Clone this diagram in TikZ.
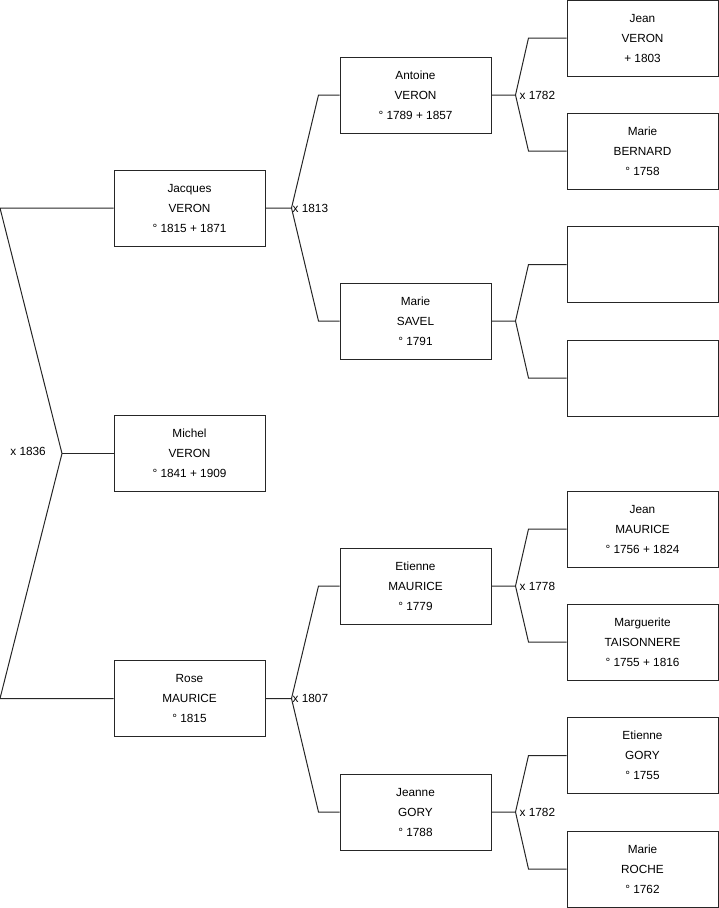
\documentclass[tikz,border=0pt]{standalone}
\usepackage{fontspec}
\setmainfont{Liberation Sans}
\usepackage{tikz}
\usetikzlibrary{positioning,calc}
\tikzset{
  person/.style ={draw=black!85, line width=1pt, fill=white, align=center,
                  minimum width=151, minimum height=76, inner sep=0pt,
                  font=\fontsize{11.8}{20}\selectfont},
  link/.style   ={draw=black!85, line width=1pt},
  union/.style  ={font=\fontsize{11.8}{14}\selectfont, inner sep=1pt},
}

\begin{document}
\begin{tikzpicture}[x=1pt, y=-1pt]
\useasboundingbox (0,0) rectangle (719,908);
\coordinate (edge) at (0,0);

% generation 1 and 2
\node[person] (michel)  at (189.5,453.5) {Michel\\VERON\\° 1841 + 1909};
\node[person] (jacques) at (189.5,208) {Jacques\\VERON\\° 1815 + 1871};
\node[person] (rose)    at (189.5,698.5) {Rose\\MAURICE\\° 1815};

% generation 3
\node[person] (antoine) at (415.5,95) {Antoine\\VERON\\° 1789 + 1857};
\node[person] (savel)   at (415.5,321) {Marie\\SAVEL\\° 1791};
\node[person] (etienne) at (415.5,586) {Etienne\\MAURICE\\° 1779};
\node[person] (jeanne)  at (415.5,812) {Jeanne\\GORY\\° 1788};

% generation 4
\node[person] (jeanv)  at (642.5,38) {Jean\\VERON\\ + 1803};
\node[person] (bernard) at (642.5,151) {Marie\\BERNARD\\° 1758};
\node[person] (blanka) at (642.5,264.5) {};
\node[person] (blankb) at (642.5,378) {};
\node[person] (jeanm)  at (642.5,529) {Jean\\MAURICE\\° 1756 + 1824};
\node[person] (margot) at (642.5,642) {Marguerite\\TAISONNERE\\° 1755 + 1816};
\node[person] (gory)   at (642.5,755.5) {Etienne\\GORY\\° 1755};
\node[person] (roche)  at (642.5,869) {Marie\\ROCHE\\° 1762};

% couple of michel
\coordinate (k0) at (62,453.5);
\draw[link] (jacques.west) -- (jacques.west -| edge) -- (k0) -- (rose.west -| edge) -- (rose.west);
\draw[link] (k0) -- (michel.west);
\node[union, anchor=east] (u0) at (47,451) {x 1836};

% couples of generation 2
\coordinate (k1) at ([xshift=26]jacques.east);
\draw[link] (jacques.east) -- (k1) -- ([xshift=-21]antoine.west) -- (antoine.west);
\draw[link] (k1) -- ([xshift=-21]savel.west) -- (savel.west);
\node[union, anchor=west] (u1) at (k1) {x 1813};

\coordinate (k2) at ([xshift=26]rose.east);
\draw[link] (rose.east) -- (k2) -- ([xshift=-21]etienne.west) -- (etienne.west);
\draw[link] (k2) -- ([xshift=-21]jeanne.west) -- (jeanne.west);
\node[union, anchor=west] (u2) at (k2) {x 1807};

% couples of generation 3
\coordinate (k3) at ([xshift=24]antoine.east);
\draw[link] (antoine.east) -- (k3) -- ([xshift=-38]jeanv.west) -- (jeanv.west);
\draw[link] (k3) -- ([xshift=-38]bernard.west) -- (bernard.west);
\node[union, anchor=west] (u3) at ([xshift=3]k3) {x 1782};

\coordinate (k4) at ([xshift=24]savel.east);
\draw[link] (savel.east) -- (k4) -- ([xshift=-38]blanka.west) -- (blanka.west);
\draw[link] (k4) -- ([xshift=-38]blankb.west) -- (blankb.west);

\coordinate (k5) at ([xshift=24]etienne.east);
\draw[link] (etienne.east) -- (k5) -- ([xshift=-38]jeanm.west) -- (jeanm.west);
\draw[link] (k5) -- ([xshift=-38]margot.west) -- (margot.west);
\node[union, anchor=west] (u5) at ([xshift=3]k5) {x 1778};

\coordinate (k6) at ([xshift=24]jeanne.east);
\draw[link] (jeanne.east) -- (k6) -- ([xshift=-38]gory.west) -- (gory.west);
\draw[link] (k6) -- ([xshift=-38]roche.west) -- (roche.west);
\node[union, anchor=west] (u6) at ([xshift=3]k6) {x 1782};
\end{tikzpicture}
\end{document}
